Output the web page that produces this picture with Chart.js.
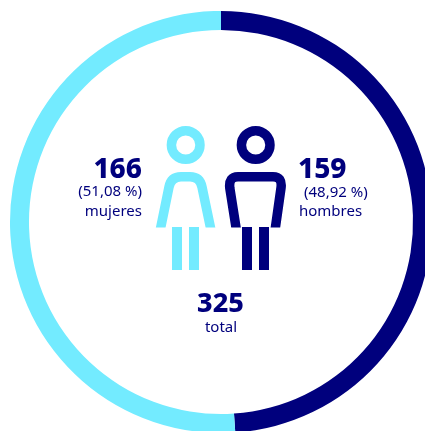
<!DOCTYPE html>
<html lang="es">
<head>
<meta charset="utf-8">
<title>Mujeres y hombres</title>
<script src="https://cdn.jsdelivr.net/npm/chart.js@4"></script>
<style>
  html, body { margin: 0; padding: 0; background: #fff; }
  #wrap { position: relative; width: 425px; height: 431px; overflow: hidden; font-family: "Noto Sans", sans-serif; color: #00007d; }
  /* el anillo se sale por la derecha y por abajo, como en el original */
  #box { position: absolute; left: 0; top: 0; width: 442px; height: 444px; }
  #figuras { position: absolute; left: 0; top: 0; }
  .t { position: absolute; white-space: nowrap; line-height: 1; }
  .num { font-size: 28px; font-weight: 800; }
  .sub { font-size: 15px; }
</style>
</head>
<body>
<div id="wrap">
  <div id="box"><canvas id="anillo"></canvas></div>

  <svg id="figuras" width="425" height="431" fill="none">
    <!-- corta los brazos en horizontal -->
    <clipPath id="corte"><rect x="140" y="120" width="160" height="107.500"/></clipPath>
    <g stroke="#73ebff" stroke-width="9.5">
      <circle cx="185.7" cy="145" r="14.3"/>
      <path clip-path="url(#corte)" d="M159.700 232.500 L169 187 Q171 176.700 181 176.700 L190 176.700 Q200 176.700 202 187 L211.500 232.500"/>
      <path d="M177 227 V270 M194 227 V270" stroke-width="10"/>
    </g>
    <g stroke="#00007d" stroke-width="9.5">
      <circle cx="255.7" cy="145" r="14.300"/>
      <path clip-path="url(#corte)" d="M236.800 232.500 L229.800 188 Q228.500 176.700 238 176.700 L273 176.700 Q282.500 176.700 281 188 L274.700 232.500"/>
      <path d="M247 227 V270 M264 227 V270" stroke-width="10"/>
    </g>
  </svg>

  <div class="t num" id="nMujeres" style="right:283px;top:153px"></div>
  <div class="t sub" id="pMujeres" style="right:283px;top:183px"></div>
  <div class="t sub" id="lMujeres" style="right:283px;top:203px"></div>

  <div class="t num" id="nHombres" style="left:298px;top:153px"></div>
  <div class="t sub" id="pHombres" style="left:304px;top:184px"></div>
  <div class="t sub" id="lHombres" style="left:299px;top:203px"></div>

  <div class="t num" id="nTotal" style="left:0;width:441px;text-align:center;top:288px;font-size:27px"></div>
  <div class="t sub" id="lTotal" style="left:0;width:442px;text-align:center;top:319px"></div>
</div>

<script>
  const categorias = ['hombres', 'mujeres'];
  const valores = [159, 166];
  const porcentajes = ['(48,92 %)', '(51,08 %)'];
  const colores = ['#00007d', '#73ebff'];
  const total = 325;
  const etiquetaTotal = 'total';

  // Textos del centro
  document.getElementById('nHombres').textContent = valores[0];
  document.getElementById('pHombres').textContent = porcentajes[0];
  document.getElementById('lHombres').textContent = categorias[0];
  document.getElementById('nMujeres').textContent = valores[1];
  document.getElementById('pMujeres').textContent = porcentajes[1];
  document.getElementById('lMujeres').textContent = categorias[1];
  document.getElementById('nTotal').textContent = total;
  document.getElementById('lTotal').textContent = etiquetaTotal;

  new Chart(document.getElementById('anillo'), {
    type: 'doughnut',
    data: {
      labels: categorias,
      datasets: [{
        data: valores,
        backgroundColor: colores,
        borderWidth: 0,
      }],
    },
    options: {
      responsive: true,
      maintainAspectRatio: false,
      animation: false,
      radius: 211,
      cutout: '91%',
      layout: { padding: 0 },
      plugins: {
        legend: { display: false },
        tooltip: { enabled: false },
      },
    },
  });
</script>
</body>
</html>
